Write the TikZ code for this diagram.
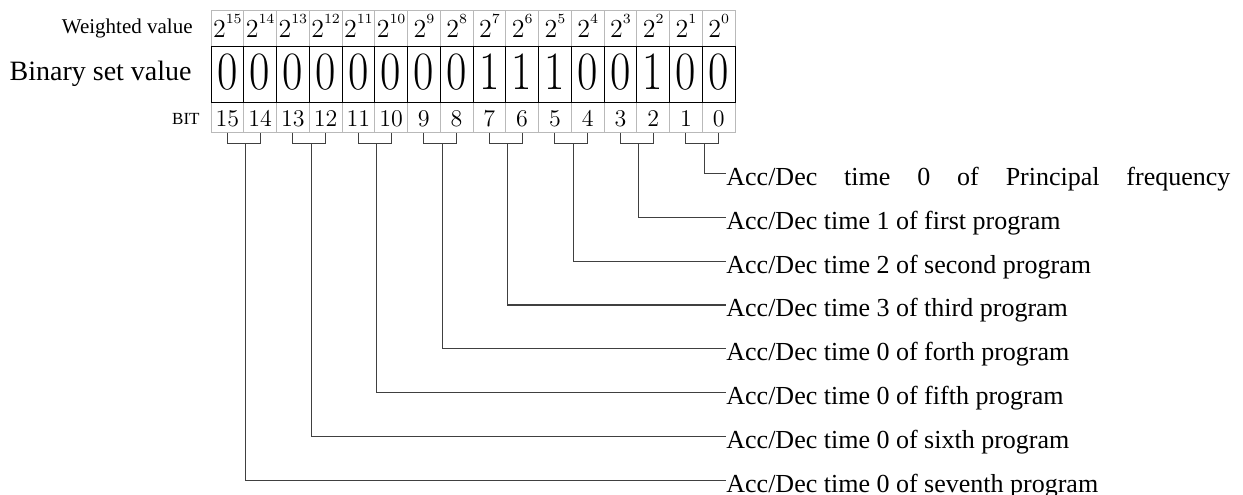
\documentclass[tikz,border=0pt]{standalone}
\usepackage{fontspec}
\newfontfamily\lsfont{Liberation Serif}
\usetikzlibrary{calc}

\tikzset{
  cellw/.style={draw=gray!55, line width=0.5pt, minimum width=16.375pt, minimum height=17.75pt,
    inner sep=0pt, text height=9.7pt, text depth=0pt, font=\fontsize{13}{13}\selectfont},
  cellb/.style={draw=black, line width=0.5pt, minimum width=16.375pt, minimum height=28.25pt,
    inner sep=0pt, text height=14.75pt, text depth=0pt, font=\fontsize{27}{27}\selectfont},
  cellbit/.style={draw=gray!55, line width=0.5pt, minimum width=16.375pt, minimum height=14.75pt,
    inner sep=0pt, text height=9.25pt, text depth=0pt, font=\fontsize{12}{12}\selectfont},
  caption/.style={anchor=base east, inner sep=0pt},
  lbl/.style={anchor=base west, inner sep=0pt, font=\lsfont\fontsize{13}{13}\selectfont},
  link/.style={draw=black!75, line width=0.6pt},
}

\begin{document}
\begin{tikzpicture}[x=0.5pt, y=-0.5pt]
  \useasboundingbox (0,0) rectangle (1243,494);
  % Row captions
  \node[caption, font=\lsfont\fontsize{10.5}{10.5}\selectfont] (capw) at (193,33) {Weighted value};
  \node[caption, font=\lsfont\fontsize{14}{14}\selectfont] (capb) at (192,80) {Binary set value};
  \node[caption, font=\lsfont\fontsize{8.5}{8.5}\selectfont] (capbit) at (200,124) {BIT};
  % Weighted row and BIT row -- gray cells
  \foreach \b in {15,...,0} {
    \node[cellw] (w\b) at (718.625-32.75*\b,28.25) {2\raisebox{7.3pt}{\fontsize{7}{7}\selectfont\b}};
    \node[cellbit] (n\b) at (718.625-32.75*\b,117.25) {\b};
  }
  % Binary set value -- black cells
  \foreach \b/\v in {15/0,14/0,13/0,12/0,11/0,10/0,9/0,8/0,7/1,6/1,5/1,4/0,3/0,2/1,1/0,0/0} {
    \node[cellb] (b\b) at (718.625-32.75*\b,74.25) {\scalebox{0.82}[1]{\v}};
  }
  % Brackets under each pair of bits
  \foreach \k/\hi/\lo in {0/1/0,1/3/2,2/5/4,3/7/6,4/9/8,5/11/10,6/13/12,7/15/14} {
    \coordinate (p\k) at ($(n\hi.south)!.5!(n\lo.south)+(2,11)$);
    \draw[link] (n\hi.south) |- (p\k) -| (n\lo.south);
  }
  % Labels
  \node[lbl] (l0) at (726,185.5) {\makebox[252pt][s]{Acc/Dec time 0 of Principal frequency}};
  \draw[link] (p0) |- ([yshift=6pt]l0.base west);
  \foreach \k/\n/\txt in {1/1/first,2/2/second,3/3/third,4/0/forth,5/0/fifth,6/0/sixth,7/0/seventh} {
    \node[lbl] (l\k) at (726,185.5+43.8*\k) {Acc/Dec time \n\ of \txt\ program};
    \draw[link] (p\k) |- ([yshift=6pt]l\k.base west);
  }
\end{tikzpicture}
\end{document}
